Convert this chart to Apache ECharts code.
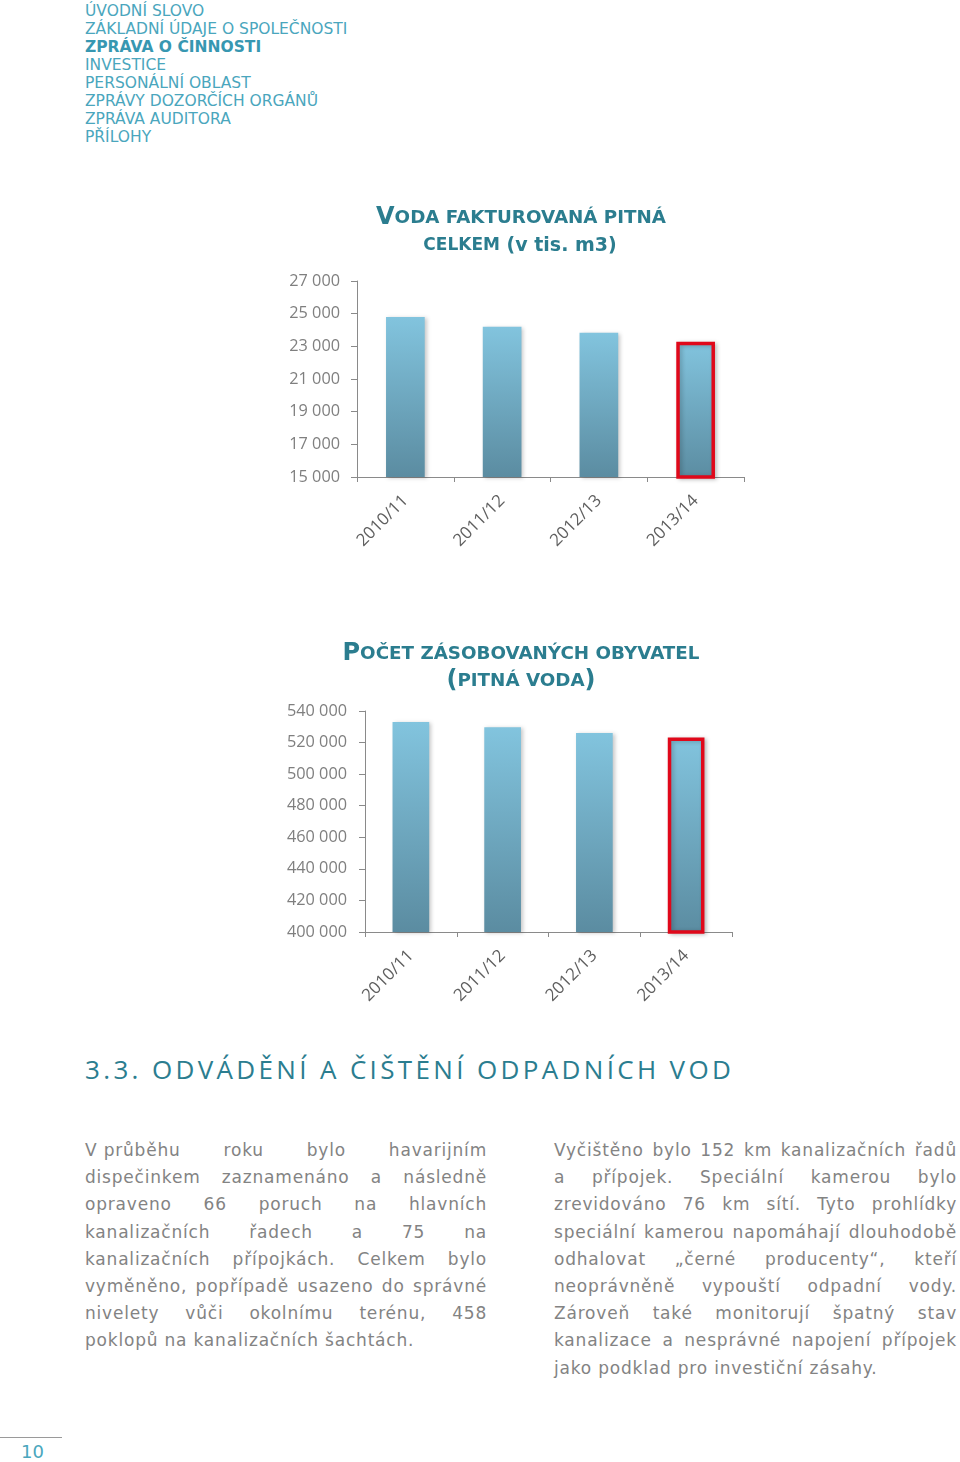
<!DOCTYPE html>
<html>
<head>
<meta charset="utf-8">
<script src="https://cdn.jsdelivr.net/npm/echarts@6/dist/echarts.min.js"></script>
<style>
  html, body { margin: 0; padding: 0; background: #ffffff; }
  body { width: 960px; height: 1462px; position: relative; overflow: hidden; font-family: "DejaVu Sans", Verdana, sans-serif; }
  #chart { position: absolute; left: 0; top: 0; width: 960px; height: 1040px; }
  .menu { position: absolute; left: 85px; top: 2px; font-family: "DejaVu Sans", sans-serif; font-size: 15.5px; line-height: 18px; color: #4aa6bd; white-space: nowrap; }
  .menu .active { font-weight: bold; color: #3797b1; }
  .heading { position: absolute; left: 85px; top: 1050px; font-family: "Open Sans", sans-serif; font-size: 26px; line-height: 38px; letter-spacing: 3.35px; color: #2b7d8f; white-space: nowrap; }
  .col { position: absolute; top: 1137px; font-size: 17px; line-height: 27.2px; letter-spacing: 0.8px; color: #838383; }
  .col div { text-align: justify; text-align-last: justify; white-space: nowrap; }
  .col div.last { text-align: left; text-align-last: left; }
  .col span.keep { display: inline-block; }
  #col1 { left: 85px; width: 402px; }
  #col2 { left: 554px; width: 403px; }
  .pnline { position: absolute; left: 0; top: 1437px; width: 62px; height: 1px; background: #9a9a9a; }
  .pn { position: absolute; left: 21px; top: 1441px; font-size: 18px; line-height: 22px; color: #4aa6bd; }
</style>
</head>
<body>
<div class="menu">
  <div>ÚVODNÍ SLOVO</div>
  <div>ZÁKLADNÍ ÚDAJE O SPOLEČNOSTI</div>
  <div class="active">ZPRÁVA O ČINNOSTI</div>
  <div>INVESTICE</div>
  <div>PERSONÁLNÍ OBLAST</div>
  <div>ZPRÁVY DOZORČÍCH ORGÁNŮ</div>
  <div>ZPRÁVA AUDITORA</div>
  <div>PŘÍLOHY</div>
</div>
<div id="chart"></div>
<div class="heading">3.3. ODVÁDĚNÍ A ČIŠTĚNÍ ODPADNÍCH VOD</div>
<div class="col" id="col1">
  <div><span class="keep">V průběhu</span> roku bylo havarijním</div>
  <div>dispečinkem zaznamenáno a následně</div>
  <div>opraveno 66 poruch na hlavních</div>
  <div>kanalizačních řadech a 75 na</div>
  <div>kanalizačních přípojkách. Celkem bylo</div>
  <div>vyměněno, popřípadě usazeno do správné</div>
  <div>nivelety vůči okolnímu terénu, 458</div>
  <div class="last">poklopů na kanalizačních šachtách.</div>
</div>
<div class="col" id="col2">
  <div>Vyčištěno bylo 152 km kanalizačních řadů</div>
  <div>a přípojek. Speciální kamerou bylo</div>
  <div>zrevidováno 76 km sítí. Tyto prohlídky</div>
  <div>speciální kamerou napomáhají dlouhodobě</div>
  <div>odhalovat „černé producenty“, kteří</div>
  <div>neoprávněně vypouští odpadní vody.</div>
  <div>Zároveň také monitorují špatný stav</div>
  <div>kanalizace a nesprávné napojení přípojek</div>
  <div class="last">jako podklad pro investiční zásahy.</div>
</div>
<div class="pnline"></div>
<div class="pn">10</div>
<script>
// ---- data ----
const categories = ['2010/11', '2011/12', '2012/13', '2013/14'];
const waterBilled = [24800, 24200, 23830, 23280];        // tis. m3
const population = [533000, 529700, 526000, 523200];      // obyvatel
const waterTicks = [15000, 17000, 19000, 21000, 23000, 25000, 27000];
const populationTicks = [400000, 420000, 440000, 460000, 480000, 500000, 520000, 540000];
const highlightIndex = 3;

// ---- styles ----
const TEAL = '#2b7d8f';
const AXIS = '#8a8a8a';
const barFill = new echarts.graphic.LinearGradient(0, 0, 0, 1, [
  { offset: 0, color: '#82c4de' },
  { offset: 1, color: '#5b8ca1' }
]);
const baseItem = {
  color: barFill,
  shadowColor: 'rgba(0,0,0,0.22)',
  shadowBlur: 4,
  shadowOffsetX: 2,
  shadowOffsetY: 1
};
const hiItem = Object.assign({}, baseItem, { borderColor: '#e0081a', borderWidth: 3.5 });

function fmt(v) { return String(v).replace(/\B(?=(\d{3})+(?!\d))/g, ' '); }
function mark(arr) { return arr.map((v, i) => i === highlightIndex ? { value: v, itemStyle: hiItem } : v); }

function xAxis(gridIndex) {
  return {
    type: 'category', gridIndex: gridIndex, data: categories,
    axisLine: { lineStyle: { color: AXIS, width: 1 } },
    axisTick: { show: true, length: 5, lineStyle: { color: AXIS } },
    axisLabel: { rotate: 45, margin: 21, color: '#5f5f5f', fontSize: 17, fontFamily: 'Open Sans' },
    splitLine: { show: false }
  };
}
function yAxisBase(gridIndex, min, max, margin) {
  return {
    type: 'value', gridIndex: gridIndex, min: min, max: max,
    axisLine: { show: true, lineStyle: { color: AXIS, width: 1 } },
    axisTick: { show: true, length: 6, lineStyle: { color: AXIS } },
    axisLabel: { color: '#7f7f7f', fontSize: 16.3, fontFamily: 'Open Sans', margin: margin, formatter: fmt },
    splitLine: { show: false }
  };
}

const y1 = yAxisBase(0, waterTicks[0], waterTicks[waterTicks.length - 1], 17);
y1.axisLabel.customValues = waterTicks;
y1.axisTick.customValues = waterTicks;
const y2 = yAxisBase(1, populationTicks[0], populationTicks[populationTicks.length - 1], 18);
y2.interval = populationTicks[1] - populationTicks[0];

function titleLine(x, y, text) {
  return {
    type: 'text', x: x, y: y,
    style: {
      text: text, align: 'center', verticalAlign: 'middle',
      rich: {
        b: { fontSize: 24, fontWeight: 'bold', fontFamily: 'DejaVu Sans', fill: TEAL },
        m: { fontSize: 19, fontWeight: 'bold', fontFamily: 'DejaVu Sans', fill: TEAL },
        s: { fontSize: 18.3, fontWeight: 'bold', fontFamily: 'DejaVu Sans', fill: TEAL },
        c: { fontSize: 17, fontWeight: 'bold', fontFamily: 'DejaVu Sans', fill: TEAL }
      }
    }
  };
}

const chart = echarts.init(document.getElementById('chart'), null, { renderer: 'canvas' });
chart.setOption({
  animation: false,
  backgroundColor: 'transparent',
  grid: [
    { left: 357, top: 281, width: 387, height: 196, containLabel: false },
    { left: 365, top: 711, width: 367, height: 221, containLabel: false }
  ],
  xAxis: [xAxis(0), xAxis(1)],
  yAxis: [y1, y2],
  series: [
    { type: 'bar', xAxisIndex: 0, yAxisIndex: 0, barWidth: '40%', data: mark(waterBilled), itemStyle: baseItem },
    { type: 'bar', xAxisIndex: 1, yAxisIndex: 1, barWidth: '40%', data: mark(population), itemStyle: baseItem }
  ],
  graphic: [
    titleLine(521, 218, '{b|V}{s|ODA FAKTUROVANÁ PITNÁ}'),
    titleLine(520, 246, '{c|CELKEM}{m| (v tis. m3)}'),
    titleLine(521, 654, '{b|P}{s|OČET ZÁSOBOVANÝCH OBYVATEL}'),
    titleLine(521, 681, '{b|(}{s|PITNÁ VODA}{b|)}')
  ]
});
</script>
</body>
</html>
